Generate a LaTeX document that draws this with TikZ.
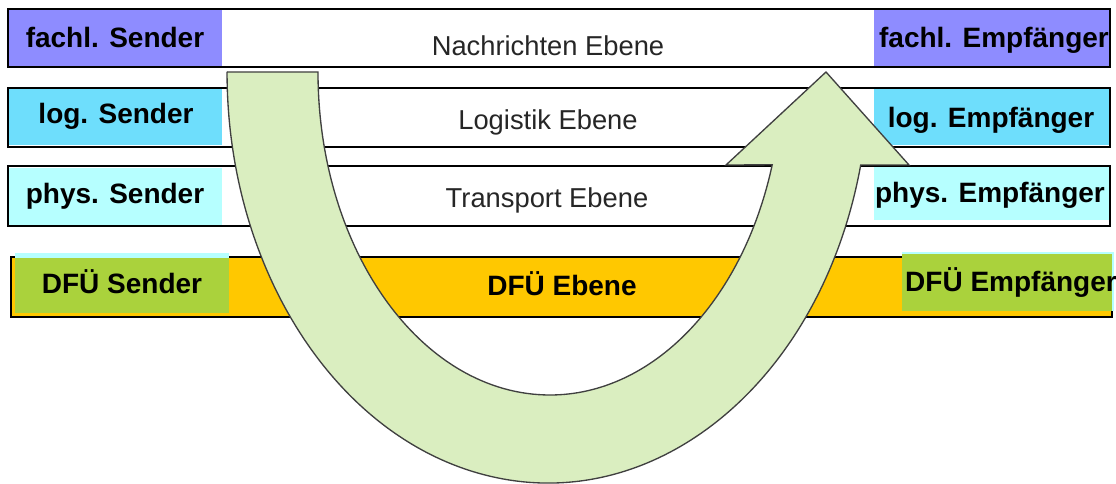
\documentclass[tikz,border=0pt]{standalone}
\usepackage{fontspec}
\setmainfont{Liberation Sans}
\definecolor{fachl}{RGB}{142,140,255}
\definecolor{logc}{RGB}{110,222,252}
\definecolor{physc}{RGB}{182,255,255}
\definecolor{dfue}{RGB}{255,200,0}
\definecolor{dfuebox}{RGB}{170,210,60}
\definecolor{pfeil}{RGB}{218,238,192}
\begin{document}
\begin{tikzpicture}[x=0.75pt, y=0.75pt]
    \useasboundingbox (0,0) rectangle (1116,484);
    \begin{scope}
        \tikzstyle{every path}=[line width=1.1pt]
        % Ebenen
        \draw[fill=white] (8,417) rectangle (1110,475);
        \draw[fill=white] (8,337) rectangle (1110,396);
        \draw[fill=white] (8,258) rectangle (1110,318);
        \draw[fill=dfue] (11,167) rectangle (1112,227);
        % Sender / Empfaenger
        \fill[fachl] (9,418) rectangle (222,474);
        \fill[fachl] (874,418) rectangle (1109,474);
        \fill[logc] (9,339) rectangle (222,395);
        \fill[logc] (874,339) rectangle (1109,395);
        \fill[physc] (9,259) rectangle (222,316);
        \fill[physc] (874,264) rectangle (1109,317);
        \fill[physc] (15,171) rectangle (229,231);
        \fill[dfuebox] (15,171) rectangle (229,226);
        \fill[physc] (902,173) rectangle (1114,232);
        \fill[dfuebox] (902,173) rectangle (1112,230);
    \end{scope}
    % U-Pfeil
    \draw[fill=pfeil, draw=black!75, line width=1pt, line join=miter]
        (227,412) -- (318,412)
        arc[start angle=180, end angle=343.3, x radius=232, y radius=323]
        -- (726,319) -- (826,412) -- (909,319) -- (860.7,319)
        arc[start angle=346.92, end angle=180, x radius=321, y radius=411]
        -- cycle;
    \begin{scope}
        \tikzstyle{every node}=[anchor=base, inner sep=0pt, text=black, font=\fontsize{21}{25}\selectfont\bfseries]
        \node (fs) at (115,436) {fachl. Sender};
        \node (ls) at (116,360) {log. Sender};
        \node (ps) at (115,280) {phys. Sender};
        \node (ds) at (122,190) {DFÜ Sender};
        \node (fe) at (994,436) {fachl. Empfänger};
        \node (le) at (991,356) {log. Empfänger};
        \node (pe) at (990,281) {phys. Empfänger};
        \node (de) at (1011,192) {DFÜ Empfänger};
        \node (dfe) at (562,188) {DFÜ Ebene};
    \end{scope}
    \begin{scope}
        \tikzstyle{every node}=[anchor=base, inner sep=0pt, text=black!85, font=\fontsize{20.5}{25}\selectfont]
        \node (nae) at (548,428) {Nachrichten\ Ebene};
        \node (lge) at (548,354) {Logistik Ebene};
        \node (tre) at (547,276) {Transport\ Ebene};
    \end{scope}
\end{tikzpicture}
\end{document}
